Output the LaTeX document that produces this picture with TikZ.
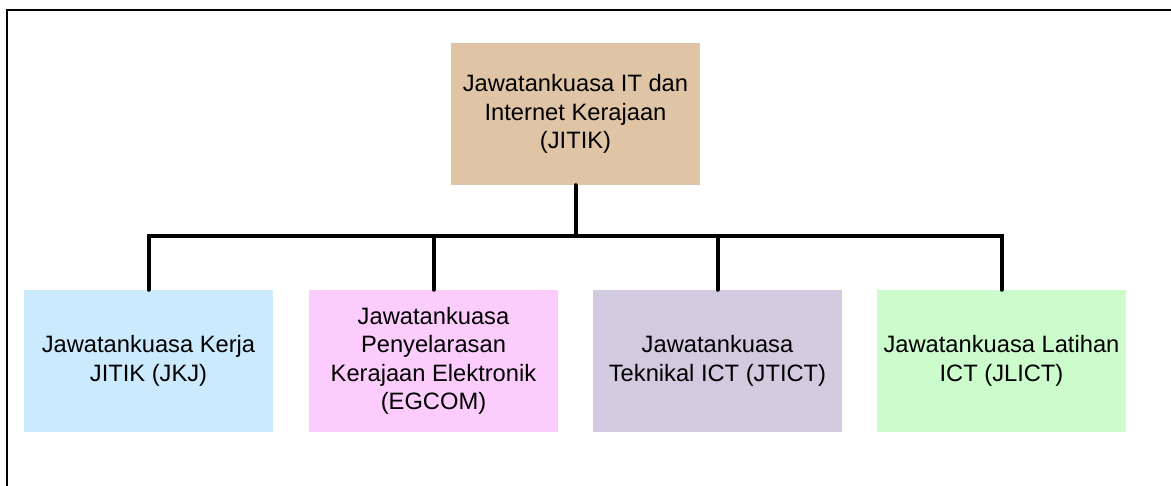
\documentclass[tikz,border=0pt]{standalone}
\usepackage{fontspec}
\setmainfont{Liberation Sans}
\begin{document}
\begin{tikzpicture}[x=1pt,y=-1pt,
  box/.style={minimum width=249pt,minimum height=142pt,inner sep=0pt,align=center,
    font=\fontsize{23.7}{28.5}\selectfont},
  link/.style={line width=4pt,line cap=round,line join=miter},
  frame/.style={line width=2.2pt}]
\useasboundingbox (0,0) rectangle (1171,486);
\definecolor{ctop}{HTML}{E0C4A6}
\definecolor{cone}{HTML}{CCEAFD}
\definecolor{ctwo}{HTML}{FBCCFC}
\definecolor{cthree}{HTML}{D2CADE}
\definecolor{cfour}{HTML}{CCFCCC}
\draw[frame] (7,490) -- (7,10) -- (1175,10);
\node[box,fill=ctop] (top) at (575.5,114) {Jawatankuasa IT dan\\Internet Kerajaan\\(JITIK)};
\node[box,fill=cone] (b1) at (148.5,361) {Jawatankuasa Kerja\\JITIK (JKJ)};
\node[box,fill=ctwo] (b2) at (433.5,361) {Jawatankuasa\\Penyelarasan\\Kerajaan Elektronik\\(EGCOM)};
\node[box,fill=cthree] (b3) at (717.5,361) {Jawatankuasa\\Teknikal ICT (JTICT)};
\node[box,fill=cfour] (b4) at (1001.5,361) {Jawatankuasa Latihan\\ICT (JLICT)};
\coordinate (bus) at (575.5,236);
\draw[link] (top.south) -- (bus);
\draw[link] (bus) -| (b1.north);
\draw[link] (bus) -| (b2.north);
\draw[link] (bus) -| (b3.north);
\draw[link] (bus) -| (b4.north);
\end{tikzpicture}
\end{document}
